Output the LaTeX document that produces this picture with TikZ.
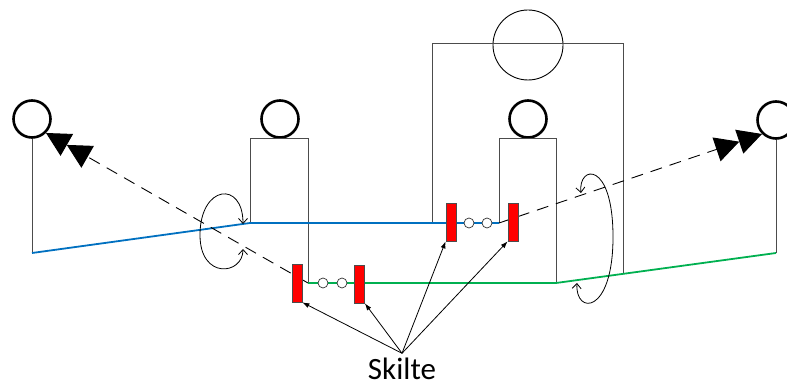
\documentclass[tikz,border=0pt]{standalone}
\usepackage{fontspec}
\setmainfont{Carlito}
\usetikzlibrary{arrows.meta}

\begin{document}
\begin{tikzpicture}[x=1pt,y=-1pt,
  head/.style={draw,circle,line width=2.6pt,minimum size=37pt,inner sep=0pt},
  body/.style={draw=black!70,line width=1pt},
  sign/.style={draw=black!70,fill=red,minimum width=10pt,minimum height=38pt,inner sep=0pt,line width=0.8pt},
  wheel/.style={draw=black!80,fill=white,circle,minimum size=10pt,inner sep=0pt,line width=0.7pt},
  sight/.style={dash pattern=on 12pt off 8pt,line width=0.9pt,-{Triangle[length=24pt,width=25pt,sep=0pt]Triangle[length=24pt,width=25pt]}},
  turn/.style={line width=0.8pt,{Straight Barb[length=5pt,width=9pt]}-{Straight Barb[length=5pt,width=9pt]}},
  pointer/.style={line width=0.8pt,-{Latex[length=7pt,width=5pt]}}]
  \useasboundingbox (0,0) rectangle (787,387);
  % heads
  \node[head] (lhead) at (32,119) {};
  \node[head] (mlhead) at (280,119) {};
  \node[head] (mrhead) at (528,119) {};
  \node[head] (rhead) at (776,120) {};
  \node[draw,circle,minimum size=70pt,inner sep=0pt,line width=0.9pt] (lamp) at (528,45) {};
  % ground points
  \coordinate (lfoot) at (32,253);
  \coordinate (kink) at (250,223);
  \coordinate (mlfoot) at (308,283);
  \coordinate (mrleft) at (499,223);
  \coordinate (mrfoot) at (556,283);
  \coordinate (rfoot) at (776,253);
  % bodies
  \draw[body] (lhead) -- (lfoot);
  \draw[body] (rhead) -- (rfoot);
  \draw[body] (kink) -- (250,139) -- (308,139) -- (mlfoot);
  \draw[body] (mrleft) -- (499,139) -- (556,139) -- (mrfoot);
  \draw[body] (432,223) -- (432,44) -- (623,44) -- (623,274);
  % paths
  \draw[line width=1.8pt,color={rgb,255:red,0;green,112;blue,192}] (lfoot) -- (kink) -- (mrleft);
  \draw[line width=1.8pt,color={rgb,255:red,0;green,176;blue,80}] (mlfoot) -- (mrfoot) -- (rfoot);
  \draw[sight] (mlfoot) -- (lhead.south east);
  \draw[sight] (mrleft) -- (rhead.south west);
  % turning arcs
  \coordinate (lturna) at (243,249);
  \coordinate (lturnb) at (243,224);
  \coordinate (rturna) at (581,193);
  \coordinate (rturnb) at (577,283);
  \draw[turn] (lturna) .. controls (243,275) and (200,280) .. (200,235)
    .. controls (200,185) and (243,180) .. (lturnb);
  \draw[turn] (rturna) .. controls (578,165) and (613,160) .. (613,237)
    .. controls (613,315) and (575,315) .. (rturnb);
  % signs
  \node[sign] (sign1) at (297,283) {};
  \node[sign] (sign2) at (359.5,284) {};
  \node[sign] (sign3) at (451,222) {};
  \node[sign] (sign4) at (513,222) {};
  \node[wheel] (w1) at (323,283) {};
  \node[wheel] (w2) at (342,283) {};
  \node[wheel] (w3) at (469,223) {};
  \node[wheel] (w4) at (487,223) {};
  % label
  \node[anchor=base,inner sep=1pt,font=\fontsize{31}{36}\selectfont] (skilte) at (402,379) {Skilte};
  \coordinate (fan) at ([yshift=3pt]skilte.north);
  \draw[pointer] (fan) -- (sign1.south east);
  \draw[pointer] (fan) -- (sign2.south east);
  \draw[pointer] (fan) -- (sign3.south west);
  \draw[pointer] (fan) -- (sign4.south west);
\end{tikzpicture}
\end{document}
